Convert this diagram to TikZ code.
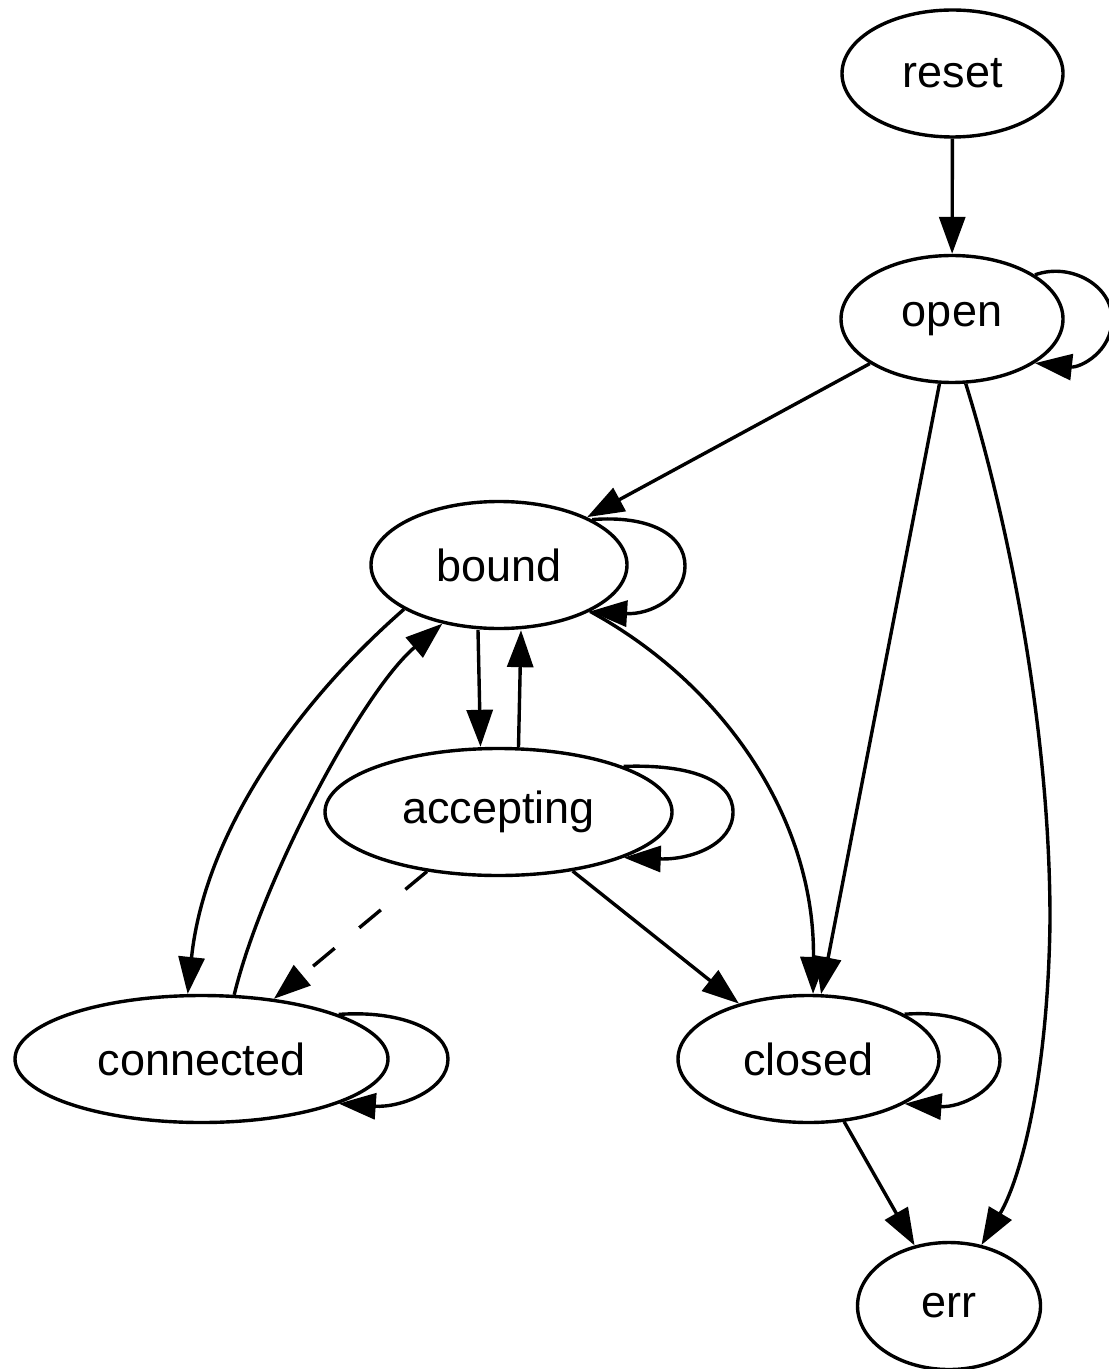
\documentclass[tikz,border=0pt]{standalone}
\usepackage{fontspec}
\setmainfont{Liberation Sans}
\usetikzlibrary{shapes.geometric,arrows.meta}
\begin{document}
\begin{tikzpicture}[x=0.5pt,y=-0.5pt,
  state/.style={ellipse,draw,line width=1.7pt,inner sep=0pt,minimum height=63.5pt,
    font=\fontsize{22.5}{27}\selectfont},
  edge/.style={line width=1.7pt,-{Triangle[length=18.5pt,width=13pt]}},
  dashededge/.style={edge,dash pattern=on 14pt off 16pt}]
\useasboundingbox (0,0) rectangle (1108,1369);

% states
\node[state,minimum width=110.5pt] (reset)     at (952.5,73.5) {reset};
\node[state,minimum width=111pt]   (open)      at (952,319)    {open};
\node[state,minimum width=128pt]   (bound)     at (499,565)    {bound};
\node[state,minimum width=173.5pt] (accepting) at (498.5,812)  {accepting};
\node[state,minimum width=186.5pt] (connected) at (201.5,1059) {connected};
\node[state,minimum width=130.5pt] (closed)    at (808.5,1059) {closed};
\node[state,minimum width=91.5pt]  (err)       at (949,1306)   {err};

% straight transitions
\draw[edge] (reset) -- (open);
\draw[edge] (open) -- (bound);
\draw[edge] (open) -- (closed);
\draw[edge] ([xshift=-10.5pt]bound.south) -- ([xshift=-9pt]accepting.north);
\draw[edge] ([xshift=10pt]accepting.north) -- ([xshift=11pt]bound.south);
\draw[dashededge] (accepting) -- (connected);
\draw[edge] (accepting) -- (closed);
\draw[edge] (closed) -- (err);

% curved transitions
\draw[edge] (open.-78) .. controls (1005,510) and (1050,720) .. (1050,920)
  .. controls (1048,1080) and (1020,1180) .. (err.62);
\draw[edge] (bound.205) .. controls (300,700) and (205,830) .. (connected.102);
\draw[edge] (connected.63) .. controls (262,880) and (362,692) .. (bound.-134);
\draw[edge] (bound.-27) .. controls (725,685) and (815,820) .. (closed.86);

% self loops
\draw[edge] (open.28) .. controls (1070,262) and (1112,285) .. (1112,319)
  .. controls (1112,352) and (1080,368) .. (open.-28);
\draw[edge] (bound.26) .. controls (650,515) and (685,535) .. (685,566)
  .. controls (685,597) and (650,615) .. (bound.-27);
\draw[edge] (accepting.20) .. controls (690,764) and (733,780) .. (733,812)
  .. controls (733,845) and (690,860) .. (accepting.-20);
\draw[edge] (connected.18) .. controls (400,1010) and (448,1030) .. (448,1059)
  .. controls (448,1090) and (400,1108) .. (connected.-18);
\draw[edge] (closed.25) .. controls (960,1010) and (1000,1030) .. (1000,1060)
  .. controls (1000,1090) and (960,1108) .. (closed.-25);
\end{tikzpicture}
\end{document}
